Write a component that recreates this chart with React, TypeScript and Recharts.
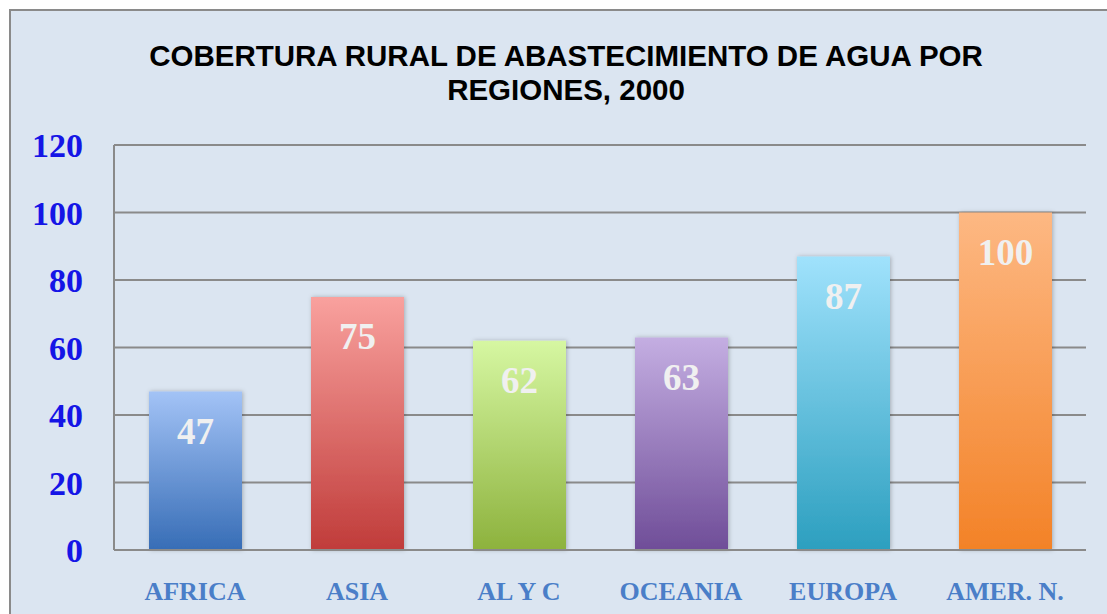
import React from 'react';
import { BarChart, Bar, XAxis, YAxis, CartesianGrid, Cell, LabelList } from 'recharts';

// Rural water supply coverage by region, 2000 (%)
const regions = ['AFRICA', 'ASIA', 'AL Y C', 'OCEANIA', 'EUROPA', 'AMER. N.'];
const coverage = [47, 75, 62, 63, 87, 100];
const yTicks = [0, 20, 40, 60, 80, 100, 120];

const titleLines = ['COBERTURA RURAL DE ABASTECIMIENTO DE AGUA POR', 'REGIONES, 2000'];

// gradient stops, top -> bottom
const palette = [
  ['#a3c3f6', '#376db6'],
  ['#f9a19e', '#c03c3a'],
  ['#d6f7a2', '#8db23d'],
  ['#c4aee2', '#6f4d98'],
  ['#a0e2fc', '#2c9fbf'],
  ['#fdb883', '#f38227'],
];

const chartData = regions.map((name, i) => ({ name, value: coverage[i] }));

const gridColor = '#8a8a8a';
const serif = '"Liberation Serif", "DejaVu Serif", serif';

export default function App() {
  return (
    <div
      style={{
        position: 'absolute',
        left: 9,
        top: 9,
        width: 1096,
        height: 603,
        borderTop: `2px solid ${gridColor}`,
        borderLeft: `2px solid ${gridColor}`,
        background: '#dbe5f1',
        overflow: 'hidden',
      }}
    >
      <div
        style={{
          position: 'absolute',
          left: 0,
          top: 28,
          width: 1110,
          textAlign: 'center',
          fontFamily: '"Liberation Sans", Arial, sans-serif',
          fontWeight: 'bold',
          fontSize: 29.5,
          lineHeight: '34px',
          color: '#000',
        }}
      >
        {titleLines.map(t => (
          <div key={t}>{t}</div>
        ))}
      </div>
      <BarChart
        width={1096}
        height={603}
        data={chartData}
        margin={{ top: 134, right: 21, left: 0, bottom: 4 }}
        barSize={93}
      >
        <defs>
          {palette.map((c, i) => (
            <linearGradient key={i} id={`grad${i}`} x1="0" y1="0" x2="0" y2="1">
              <stop offset="0%" stopColor={c[0]} />
              <stop offset="100%" stopColor={c[1]} />
            </linearGradient>
          ))}
          <filter id="shadow" x="-10%" y="-5%" width="120%" height="110%">
            <feDropShadow dx="1" dy="0" stdDeviation="2" floodColor="#000" floodOpacity="0.25" />
          </filter>
        </defs>
        <CartesianGrid vertical={false} stroke={gridColor} strokeWidth={2} />
        <XAxis
          dataKey="name"
          axisLine={{ stroke: gridColor, strokeWidth: 2 }}
          tickLine={false}
          tickSize={0}
          tickMargin={32}
          height={60}
          interval={0}
          tick={{ fontFamily: serif, fontWeight: 'bold', fontSize: 26, fill: '#4a7ec8' }}
        />
        <YAxis
          domain={[0, 120]}
          ticks={yTicks}
          width={103}
          axisLine={{ stroke: gridColor, strokeWidth: 2 }}
          tickLine={false}
          tickSize={0}
          tickMargin={31}
          tick={{ fontFamily: serif, fontWeight: 'bold', fontSize: 34, fill: '#1515e6' }}
        />
        <Bar dataKey="value" isAnimationActive={false}>
          {chartData.map((d, i) => (
            <Cell key={d.name} fill={`url(#grad${i})`} filter="url(#shadow)" />
          ))}
          <LabelList
            dataKey="value"
            position="insideTop"
            offset={26}
            style={{ fontFamily: serif, fontWeight: 'bold', fontSize: 37, fill: '#f0f0f0' }}
          />
        </Bar>
      </BarChart>
    </div>
  );
}
